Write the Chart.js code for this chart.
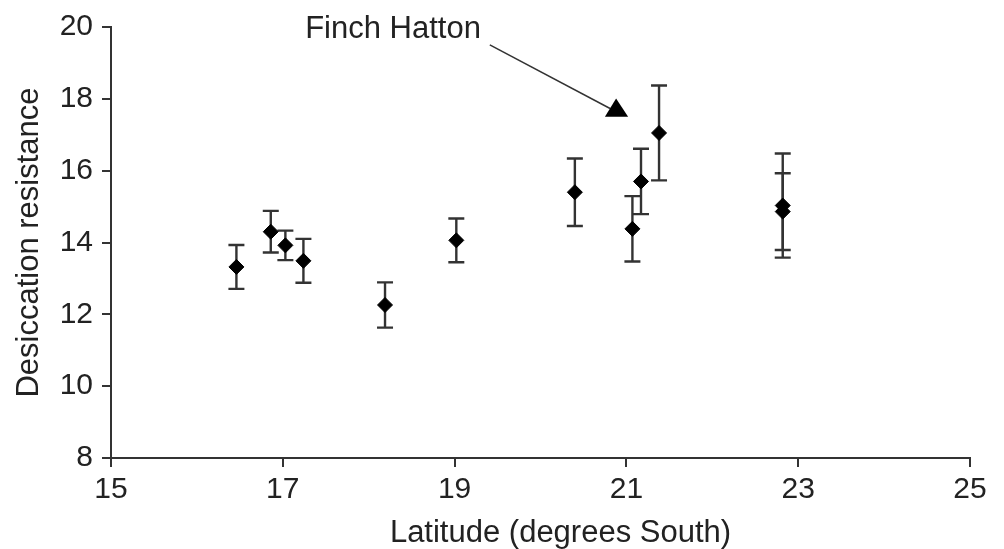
<!DOCTYPE html>
<html><head><meta charset="utf-8">
<script src="https://cdn.jsdelivr.net/npm/chart.js@4.4.1/dist/chart.umd.min.js"></script>
<style>html,body{margin:0;padding:0;background:#fff}</style>
</head><body>
<canvas id="c" width="1004" height="549"></canvas>
<script>
// Data
const latitude   = [16.46, 16.86, 17.03, 17.24, 18.19, 19.02, 20.40, 21.07, 21.17, 21.38, 22.82, 22.82];
const resistance = [13.32, 14.30, 13.92, 13.49, 12.26, 14.06, 15.40, 14.38, 15.70, 17.05, 15.03, 14.86];
const errorBar   = [0.61, 0.58, 0.41, 0.61, 0.63, 0.61, 0.94, 0.91, 0.91, 1.32, 1.45, 1.07];
const xTicks = [15, 17, 19, 21, 23, 25];
const yTicks = [8, 10, 12, 14, 16, 18, 20];
const xTitle = 'Latitude (degrees South)';
const yTitle = 'Desiccation resistance';
const annotationLabel = 'Finch Hatton';
const annotationPos = {x: 17.26, y: 19.68};
const arrowFrom = {x: 19.41, y: 19.50};
const arrowTo = {x: 20.81, y: 17.73};
const arrowHead = [{x: 20.88, y: 18.01}, {x: 20.75, y: 17.50}, {x: 21.02, y: 17.50}];

const FONT = '"Liberation Sans", Arial, Helvetica, sans-serif';
const INK = '#222';
const LINE = '#333';

const points = latitude.map((x, i) => ({x, y: resistance[i]}));

const errorBarPlugin = {
  id: 'errorBars',
  beforeDatasetsDraw(chart) {
    const {ctx, scales: {x, y}} = chart;
    ctx.save();
    ctx.strokeStyle = LINE;
    ctx.lineWidth = 2.4;
    const cap = 8;
    latitude.forEach((lx, i) => {
      const px = x.getPixelForValue(lx);
      const top = y.getPixelForValue(resistance[i] + errorBar[i]);
      const bot = y.getPixelForValue(resistance[i] - errorBar[i]);
      ctx.beginPath();
      ctx.moveTo(px, top); ctx.lineTo(px, bot);
      ctx.moveTo(px - cap, top); ctx.lineTo(px + cap, top);
      ctx.moveTo(px - cap, bot); ctx.lineTo(px + cap, bot);
      ctx.stroke();
    });
    ctx.restore();
  }
};

const annotationPlugin = {
  id: 'annotation',
  afterDraw(chart) {
    const {ctx, scales: {x, y}, chartArea} = chart;
    ctx.save();
    // x-axis title (offset slightly right of centre as in the reference)
    ctx.fillStyle = INK;
    ctx.font = '31px ' + FONT;
    ctx.textAlign = 'center';
    ctx.textBaseline = 'alphabetic';
    ctx.fillText(xTitle, (chartArea.left + chartArea.right) / 2 + 20, chart.height - 7);
    // annotation
    ctx.font = '31px ' + FONT;
    ctx.textAlign = 'left';
    ctx.fillText(annotationLabel, x.getPixelForValue(annotationPos.x), y.getPixelForValue(annotationPos.y));
    ctx.strokeStyle = LINE;
    ctx.lineWidth = 1.5;
    ctx.beginPath();
    ctx.moveTo(x.getPixelForValue(arrowFrom.x), y.getPixelForValue(arrowFrom.y));
    ctx.lineTo(x.getPixelForValue(arrowTo.x), y.getPixelForValue(arrowTo.y));
    ctx.stroke();
    ctx.fillStyle = '#000';
    ctx.beginPath();
    arrowHead.forEach((p, i) => {
      const px = x.getPixelForValue(p.x), py = y.getPixelForValue(p.y);
      if (i === 0) ctx.moveTo(px, py); else ctx.lineTo(px, py);
    });
    ctx.closePath();
    ctx.fill();
    ctx.restore();
  }
};

new Chart(document.getElementById('c'), {
  type: 'scatter',
  data: {
    datasets: [{
      data: points,
      pointStyle: 'rectRot',
      pointRadius: 7.5,
      pointBackgroundColor: '#000',
      pointBorderColor: '#000',
      pointBorderWidth: 1,
      showLine: false
    }]
  },
  options: {
    responsive: false,
    animation: false,
    devicePixelRatio: 1,
    layout: {padding: {top: 25, right: 34, left: 0, bottom: 0}},
    plugins: {legend: {display: false}, tooltip: {enabled: false}},
    scales: {
      x: {
        type: 'linear', min: 15, max: 25,
        afterBuildTicks: s => { s.ticks = xTicks.map(v => ({value: v})); },
        afterFit: s => { s.height = 91; },
        ticks: {font: {family: FONT, size: 30}, color: INK, padding: 5, maxRotation: 0},
        grid: {drawOnChartArea: false, drawTicks: true, tickLength: 9, color: LINE, lineWidth: 2},
        border: {color: LINE, width: 2},
        title: {display: false}
      },
      y: {
        type: 'linear', min: 8, max: 20,
        afterBuildTicks: s => { s.ticks = yTicks.map(v => ({value: v})); },
        afterFit: s => { s.width = 111; },
        ticks: {font: {family: FONT, size: 30}, color: INK, padding: 9},
        grid: {drawOnChartArea: false, drawTicks: true, tickLength: 9, color: LINE, lineWidth: 2},
        border: {color: LINE, width: 2},
        title: {display: true, text: yTitle, color: INK, font: {family: FONT, size: 31, lineHeight: 1}, padding: {top: 14, bottom: 0}}
      }
    }
  },
  plugins: [errorBarPlugin, annotationPlugin]
});
</script>
</body></html>
